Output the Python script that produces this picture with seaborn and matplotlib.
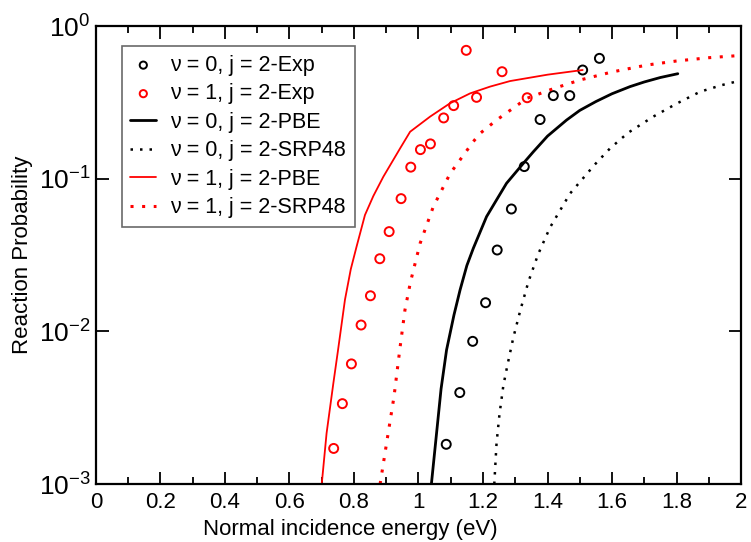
import matplotlib
matplotlib.use("Agg")
import matplotlib.pyplot as plt
import seaborn as sns
from matplotlib.ticker import FixedLocator, MultipleLocator, NullLocator

# experimental points
exp_v0_x = [1.086, 1.128, 1.168, 1.208, 1.244, 1.288, 1.328, 1.377, 1.418, 1.469, 1.509, 1.561]
exp_v0_y = [0.00182, 0.00397, 0.0086, 0.0154, 0.0341, 0.0633, 0.120, 0.244, 0.350, 0.350, 0.515, 0.614]
exp_v1_x = [0.737, 0.764, 0.792, 0.822, 0.851, 0.880, 0.909, 0.946, 0.976, 1.006, 1.037,
            1.078, 1.109, 1.148, 1.180, 1.259, 1.337]
exp_v1_y = [0.00171, 0.00336, 0.00612, 0.0110, 0.0171, 0.0299, 0.045, 0.074, 0.119, 0.155, 0.169,
            0.250, 0.301, 0.693, 0.341, 0.502, 0.339]

# theory curves
pbe_v0_x = [1.04, 1.056, 1.07, 1.087, 1.11, 1.129, 1.15, 1.17, 1.211, 1.242, 1.273, 1.325,
            1.356, 1.40, 1.459, 1.50, 1.55, 1.60, 1.656, 1.70, 1.75, 1.804]
pbe_v0_y = [0.001, 0.00215, 0.0042, 0.00755, 0.0128, 0.0187, 0.027, 0.035, 0.0564, 0.0726, 0.0933,
            0.126, 0.150, 0.19, 0.242, 0.28, 0.32, 0.36, 0.401, 0.43, 0.46, 0.487]
srp_v0_x = [1.235, 1.242, 1.251, 1.263, 1.275, 1.294, 1.316, 1.341, 1.371, 1.408, 1.47,
            1.547, 1.594, 1.65, 1.728, 1.8, 1.873, 1.94, 2.0]
srp_v0_y = [0.001, 0.00185, 0.00285, 0.0044, 0.0059, 0.0091, 0.0138, 0.0212, 0.032, 0.048, 0.080,
            0.124, 0.158, 0.20, 0.255, 0.31, 0.371, 0.41, 0.44]
pbe_v1_x = [0.700, 0.715, 0.736, 0.75, 0.772, 0.79, 0.808, 0.834, 0.86, 0.891, 0.943, 0.974,
            1.036, 1.098, 1.16, 1.222, 1.284, 1.40, 1.509]
pbe_v1_y = [0.001, 0.00215, 0.00457, 0.0074, 0.0161, 0.0255, 0.0359, 0.0578, 0.077, 0.103, 0.158,
            0.203, 0.255, 0.312, 0.362, 0.401, 0.436, 0.48, 0.515]
srp_v1_x = [0.881, 0.901, 0.924, 0.943, 0.958, 0.975, 1.005, 1.046, 1.098, 1.17, 1.191, 1.242,
            1.336, 1.42, 1.501, 1.6, 1.708, 1.8, 1.9, 1.987]
srp_v1_y = [0.001, 0.00185, 0.00373, 0.0079, 0.0138, 0.021, 0.0377, 0.0656, 0.108, 0.175, 0.198,
            0.242, 0.336, 0.39, 0.443, 0.50, 0.555, 0.59, 0.62, 0.639]

x_ticks = [0, 0.2, 0.4, 0.6, 0.8, 1.0, 1.2, 1.4, 1.6, 1.8, 2.0]
x_tick_labels = ["0", "0.2", "0.4", "0.6", "0.8", "1", "1.2", "1.4", "1.6", "1.8", "2"]
y_ticks = [1e-3, 1e-2, 1e-1, 1e0]


def main():
    sns.set_style("ticks")
    plt.rcParams["font.family"] = ["Liberation Sans", "DejaVu Sans"]
    plt.rcParams["mathtext.default"] = "regular"
    for key in ["text.color", "axes.labelcolor", "xtick.color", "ytick.color"]:
        plt.rcParams[key] = "black"

    fig = plt.figure(figsize=(7.51, 5.42), dpi=100)
    ax = fig.add_axes([0.1278, 0.107, 0.8589, 0.845])

    dots = (0, (1, 2.8))
    sns.scatterplot(x=exp_v0_x, y=exp_v0_y, ax=ax, marker="o", s=42,
                    facecolor="none", edgecolor="black", linewidth=1.4,
                    label="ν = 0, j = 2-Exp")
    sns.scatterplot(x=exp_v1_x, y=exp_v1_y, ax=ax, marker="o", s=42,
                    facecolor="none", edgecolor="red", linewidth=1.4,
                    label="ν = 1, j = 2-Exp")
    sns.lineplot(x=pbe_v0_x, y=pbe_v0_y, ax=ax, sort=False, estimator=None,
                 color="black", linewidth=2.0, label="ν = 0, j = 2-PBE")
    sns.lineplot(x=srp_v0_x, y=srp_v0_y, ax=ax, sort=False, estimator=None,
                 color="black", linewidth=1.8, linestyle=dots,
                 label="ν = 0, j = 2-SRP48")
    sns.lineplot(x=pbe_v1_x, y=pbe_v1_y, ax=ax, sort=False, estimator=None,
                 color="red", linewidth=1.3, label="ν = 1, j = 2-PBE")
    sns.lineplot(x=srp_v1_x, y=srp_v1_y, ax=ax, sort=False, estimator=None,
                 color="red", linewidth=2.2, linestyle=dots,
                 label="ν = 1, j = 2-SRP48")

    ax.set_yscale("log")
    ax.set_xlim(0, 2)
    ax.set_ylim(1e-3, 1)

    ax.xaxis.set_major_locator(FixedLocator(x_ticks))
    ax.set_xticklabels(x_tick_labels)
    ax.xaxis.set_minor_locator(MultipleLocator(0.1))
    ax.yaxis.set_major_locator(FixedLocator(y_ticks))
    ax.yaxis.set_minor_locator(NullLocator())

    ax.tick_params(which="both", direction="in", top=True, right=True,
                   width=1.3, color="black")
    ax.tick_params(which="major", length=9, pad=6)
    ax.tick_params(which="minor", length=5)
    ax.tick_params(axis="x", labelsize=16)
    ax.tick_params(axis="y", labelsize=19, pad=4)
    for sp in ax.spines.values():
        sp.set_linewidth(1.6)
        sp.set_color("black")

    ax.set_xlabel("Normal incidence energy (eV)", fontsize=16)
    ax.xaxis.set_label_coords(0.395, -0.076)
    ax.set_ylabel("Reaction Probability", fontsize=16, labelpad=4)

    leg = ax.legend(loc="upper left", bbox_to_anchor=(0.04, 0.956), fontsize=15.5,
                    frameon=True, fancybox=False, handlelength=1.2,
                    handletextpad=0.65, labelspacing=0.35, borderpad=0.4,
                    borderaxespad=0, markerscale=0.8)
    leg.get_frame().set_edgecolor("#444444")
    leg.get_frame().set_linewidth(1.2)

    fig.savefig("out.png", dpi=100)


if __name__ == "__main__":
    main()
